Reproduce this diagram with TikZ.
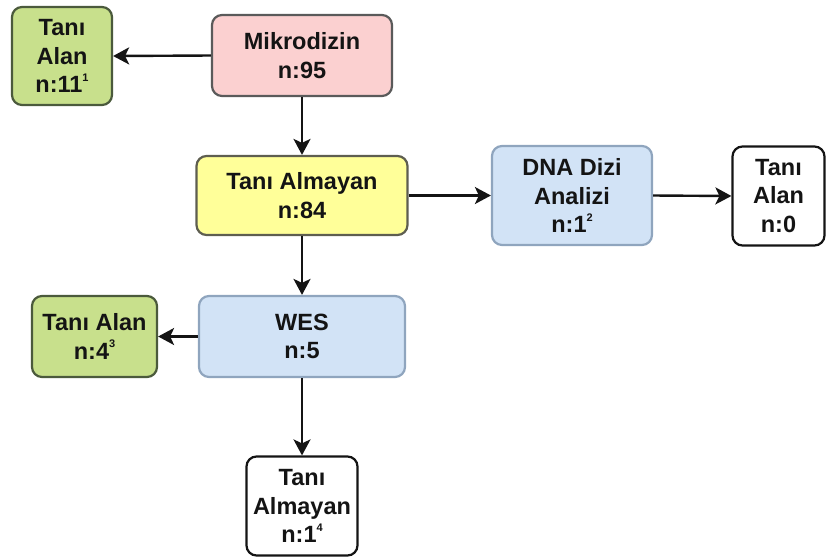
\documentclass[tikz,border=0pt]{standalone}
\usepackage{fontspec}
\setmainfont{Liberation Sans}
\usetikzlibrary{arrows.meta}
\definecolor{gfill}{HTML}{C8E08C}
\definecolor{gdraw}{HTML}{4B5A3C}
\definecolor{pfill}{HTML}{FBD0D0}
\definecolor{pdraw}{HTML}{5A5A5A}
\definecolor{yfill}{HTML}{FFFF99}
\definecolor{ydraw}{HTML}{5E5E50}
\definecolor{bfill}{HTML}{D2E3F6}
\definecolor{bdraw}{HTML}{8FA5BE}
\definecolor{ink}{HTML}{141414}
\newcommand{\nsup}[1]{\raisebox{0.48em}{\fontsize{11}{11}\selectfont #1}}
\begin{document}
\begin{tikzpicture}[x=1pt,y=-1pt,
  box/.style={draw, rounded corners=10pt, line width=2.2pt, align=center,
    inner sep=0pt, text=ink,
    font=\fontsize{23.5}{28.5}\selectfont\bfseries},
  greenbox/.style={box, fill=gfill, draw=gdraw},
  pinkbox/.style={box, fill=pfill, draw=pdraw},
  yellowbox/.style={box, fill=yfill, draw=ydraw},
  bluebox/.style={box, fill=bfill, draw=bdraw},
  whitebox/.style={box, fill=white, draw=ink},
  link/.style={draw=ink, line width=2.4pt, -{Stealth[length=16pt,width=17pt,inset=4pt]}}]
\useasboundingbox (0,0) rectangle (826,558);

\node[greenbox, minimum width=100pt, minimum height=98pt] (g1) at (62,56) {Tanı\\Alan\\n:11\nsup{1}};
\node[pinkbox, minimum width=180pt, minimum height=81pt] (mik) at (302,55.5) {Mikrodizin\\n:95};
\node[yellowbox, minimum width=211pt, minimum height=79pt] (ya) at (302,195.5) {Tanı Almayan\\n:84};
\node[bluebox, minimum width=160pt, minimum height=99pt] (dna) at (572,195.5) {DNA Dizi\\Analizi\\n:1\nsup{2}};
\node[whitebox, minimum width=92pt, minimum height=99pt] (w0) at (778.5,196) {Tanı\\Alan\\n:0};
\node[bluebox, minimum width=206pt, minimum height=81pt] (wes) at (302,336.5) {WES\\n:5};
\node[greenbox, minimum width=125pt, minimum height=81pt] (g2) at (94.5,336.5) {Tanı Alan\\n:4\nsup{3}};
\node[whitebox, minimum width=111pt, minimum height=99pt] (w1) at (302,506) {Tanı\\Almayan\\n:1\nsup{4}};

\draw[link] (mik.west) -- (g1.east);
\draw[link] (mik.south) -- (ya.north);
\draw[link] (ya.east) -- (dna.west);
\draw[link] (dna.east) -- (w0.west);
\draw[link] (ya.south) -- (wes.north);
\draw[link] (wes.west) -- (g2.east);
\draw[link] (wes.south) -- (w1.north);
\end{tikzpicture}
\end{document}
